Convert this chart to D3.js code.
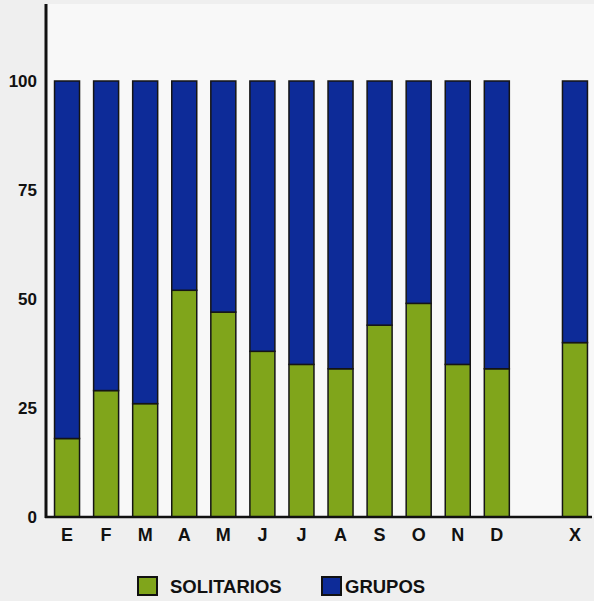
<!DOCTYPE html>
<html>
<head>
<meta charset="utf-8">
<script src="https://cdn.jsdelivr.net/npm/d3@7"></script>
<style>
  html, body { margin: 0; padding: 0; background: #efefef; }
  svg { display: block; }
  text { font-family: "Liberation Sans", Arial, sans-serif; font-weight: bold; fill: #111; }
</style>
</head>
<body>
<script>
// Monthly share (%) of solitary individuals vs. groups, plus the annual mean (X)
const months = ["E", "F", "M", "A", "M", "J", "J", "A", "S", "O", "N", "D", "X"];
const solitarios = [18, 29, 26, 52, 47, 38, 35, 34, 44, 49, 35, 34, 40];
const grupos = solitarios.map(v => 100 - v);
const yTicks = [0, 25, 50, 75, 100];
const legendLabels = ["SOLITARIOS", "GRUPOS"];

const W = 594, H = 601;
const colGreen = "#80a51b", colBlue = "#0d2b98";

const svg = d3.select("body").append("svg").attr("width", W).attr("height", H);

// unique slot keys; an empty slot separates December from the annual column
const keys = months.slice(0, 12).map((m, i) => "m" + i).concat(["gap", "x"]);
const rows = months.map((m, i) => ({
  key: i < 12 ? "m" + i : "x",
  label: m,
  sol: solitarios[i],
  gru: grupos[i]
}));

const x = d3.scaleBand().domain(keys).range([47.5, 594.5]).paddingInner(0.36).paddingOuter(0.18);
const y = d3.scaleLinear().domain([0, 100]).range([517, 81]);

// plot background
svg.append("rect").attr("x", 47).attr("y", 4).attr("width", W - 47).attr("height", 513).attr("fill", "#f8f8f8");

// stacked bars
const g = svg.append("g");
rows.forEach(d => {
  g.append("rect")
    .attr("x", x(d.key)).attr("width", x.bandwidth())
    .attr("y", y(d.sol)).attr("height", y(0) - y(d.sol))
    .attr("fill", colGreen).attr("stroke", "#151515").attr("stroke-width", 1.5);
  g.append("rect")
    .attr("x", x(d.key)).attr("width", x.bandwidth())
    .attr("y", y(100)).attr("height", y(d.sol) - y(100))
    .attr("fill", colBlue).attr("stroke", "#151515").attr("stroke-width", 1.5);
});

// y axis: labels only, with a heavy spine
const yAxis = d3.axisLeft(y).tickValues(yTicks).tickSize(0).tickPadding(9);
const ya = svg.append("g").attr("transform", "translate(46,0)").call(yAxis);
ya.select(".domain").remove();
ya.selectAll("text").style("font-size", "17px").attr("font-family", null).attr("dy", "0.34em");
svg.append("line").attr("x1", 46).attr("x2", 46).attr("y1", 4).attr("y2", 518)
  .attr("stroke", "#111").attr("stroke-width", 3);

// x axis: month initials
const xAxis = d3.axisBottom(x).tickSize(0).tickPadding(11)
  .tickFormat(k => { const r = rows.find(d => d.key === k); return r ? r.label : ""; });
const xa = svg.append("g").attr("transform", "translate(0,517)").call(xAxis);
xa.select(".domain").remove();
xa.selectAll("text").style("font-size", "18px").attr("font-family", null);
svg.append("line").attr("x1", 45).attr("x2", 592).attr("y1", 517).attr("y2", 517)
  .attr("stroke", "#111").attr("stroke-width", 2.5);

// legend
const legend = [
  { label: legendLabels[0], color: colGreen, bx: 138, tx: 170 },
  { label: legendLabels[1], color: colBlue, bx: 322, tx: 345 }
];
legend.forEach(l => {
  svg.append("rect").attr("x", l.bx).attr("y", 577).attr("width", 19).attr("height", 18)
    .attr("fill", l.color).attr("stroke", "#111").attr("stroke-width", 2);
  svg.append("text").attr("x", l.tx).attr("y", 593).style("font-size", "18.5px").text(l.label);
});
</script>
</body>
</html>
